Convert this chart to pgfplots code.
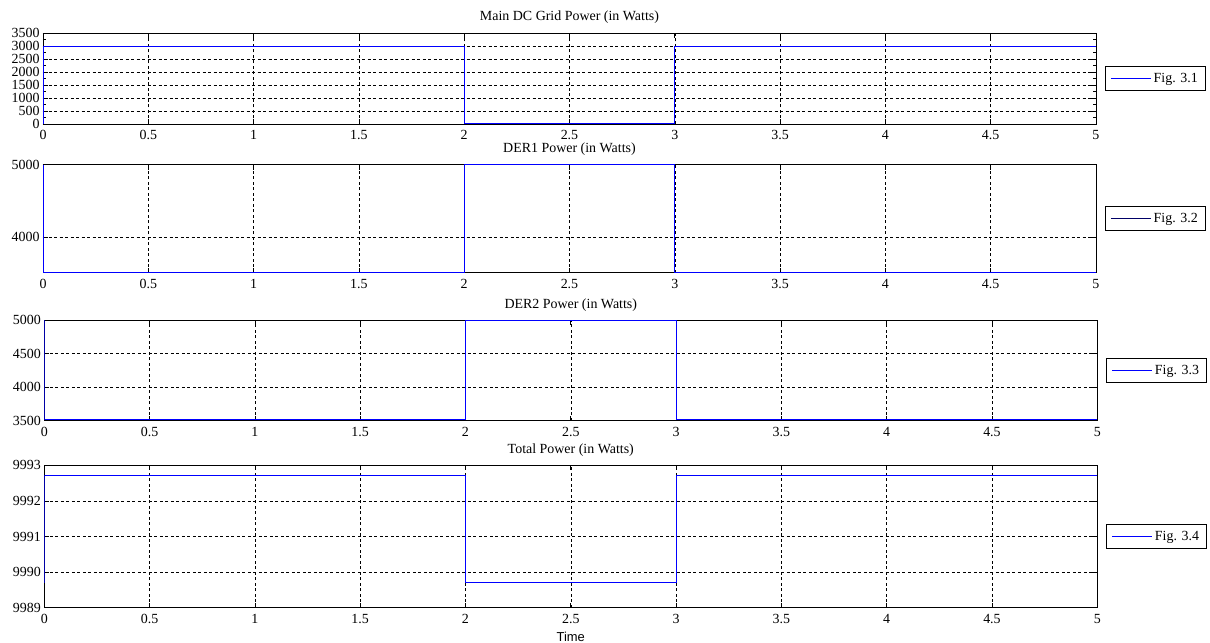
\documentclass[border=0pt]{standalone}
\usepackage{fontspec}
\setmainfont{Liberation Serif}
\newfontfamily\sansf{Liberation Sans}
\usepackage{pgfplots}
\pgfplotsset{compat=1.18}

\pgfplotsset{
  panel/.style={
    scale only axis,
    width=1053bp,
    xmin=0, xmax=5,
    xtick={0,0.5,...,5},
    xticklabels={0,0.5,1,1.5,2,2.5,3,3.5,4,4.5,5},
    grid=major,
    major grid style={black, line width=0.5bp, dash pattern=on 3bp off 2.5bp},
    axis line style={black, line width=0.8bp},
    tick style={black, line width=0.7bp},
    major tick length=5bp,
    minor tick length=3bp,
    tick align=inside,
    font=\fontsize{14}{15}\selectfont,
    /pgf/number format/assume math mode=true,
    scaled y ticks=false,
    y tick label style={/pgf/number format/.cd, fixed, precision=0, 1000 sep={}},
    x tick label style={yshift=-3bp},
    every axis title/.style={at={(0.5,1)}, anchor=base, yshift=12bp,
      font=\fontsize{14}{15}\selectfont},
    legend style={at={(1,0.5)}, xshift=9bp, anchor=west, draw=black,
      line width=0.8bp, inner xsep=5bp, inner ysep=3bp,
      font=\fontsize{14}{15}\selectfont,
      nodes={inner xsep=2.5bp, inner ysep=3.5bp}},
    legend image code/.code={\draw[#1, line width=0.8bp] (0bp,0bp) -- (40bp,0bp);},
    every axis plot/.append style={line width=0.8bp},
  },
}

\begin{document}
\begin{tikzpicture}
\useasboundingbox (0,0) rectangle (1210bp,-643bp);

% Main DC grid power
\begin{axis}[panel,
    at={(43bp,-33bp)}, anchor=north west,
    height=91bp,
    ymin=0, ymax=3500,
    ytick={0,500,...,3500},
    minor y tick num=1,
    title={Main DC Grid Power (in Watts)},
]
\addplot[color=blue] coordinates {
  (0,0)(0,2975)(2,2975)(2,30)(3,30)(3,2975)(5,2975)
};
\addlegendentry{Fig. 3.1}
\end{axis}

% DER1
\begin{axis}[panel,
    at={(43bp,-164.7bp)}, anchor=north west,
    height=108bp,
    ymin=3512, ymax=5000,
    ytick={4000,5000},
    title={DER1 Power (in Watts)},
]
\addplot[color=blue, forget plot] coordinates {
  (0,5000)(0,3522)(2,3522)(2,5000)(3,5000)(3,3522)(5,3522)
};
\addlegendimage{color=blue!40!black}
\addlegendentry{Fig. 3.2}
\end{axis}

% DER2
\begin{axis}[panel,
    at={(44.3bp,-320bp)}, anchor=north west,
    height=100.7bp,
    ymin=3500, ymax=5000,
    ytick={3500,4000,4500,5000},
    title={DER2 Power (in Watts)},
]
\addplot[color=blue] coordinates {
  (0,5000)(0,3518)(2,3518)(2,5000)(3,5000)(3,3518)(5,3518)
};
\addlegendentry{Fig. 3.3}
\end{axis}

% Total
\begin{axis}[panel,
    at={(44.3bp,-465.3bp)}, anchor=north west,
    height=142.4bp,
    ymin=9989, ymax=9993,
    ytick={9989,9990,9991,9992,9993},
    title={Total Power (in Watts)},
    xlabel={Time},
    xlabel style={font=\sansf\fontsize{13}{14}\selectfont, yshift=-2bp},
]
\addplot[color=blue] coordinates {
  (0,9989.7)(0,9992.73)(2,9992.73)(2,9989.7)(3,9989.7)(3,9992.73)(5,9992.73)
};
\addlegendentry{Fig. 3.4}
\end{axis}
\end{tikzpicture}
\end{document}
